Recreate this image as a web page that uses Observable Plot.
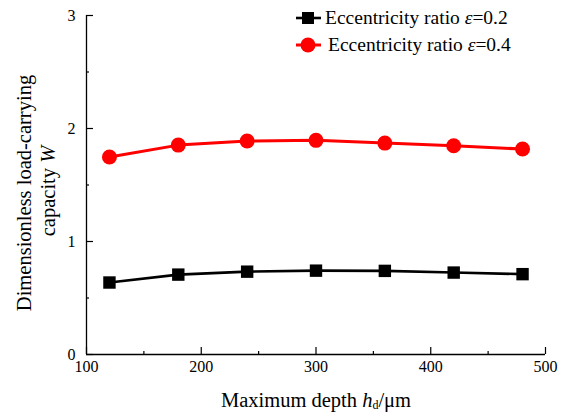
<!DOCTYPE html>
<html><head><meta charset="utf-8">
<script src="https://cdn.jsdelivr.net/npm/d3@7"></script>
<script src="https://cdn.jsdelivr.net/npm/@observablehq/plot@0.6"></script>
<style>
body{margin:0;background:#fff;}
#chart{position:relative;width:569px;height:415px;}
#chart svg, #chart svg text{font-family:"Liberation Serif","Times New Roman",serif !important;}
</style></head><body><div id="chart"></div>
<script>
const depth = [120, 180, 240, 300, 360, 420, 480];
const wEps02 = [0.637, 0.707, 0.733, 0.742, 0.740, 0.725, 0.711];
const wEps04 = [1.748, 1.853, 1.889, 1.895, 1.871, 1.847, 1.818];
const seriesNames = ["Eccentricity ratio ε=0.2", "Eccentricity ratio ε=0.4"];
const xTicks = [100, 200, 300, 400, 500];
const xMinor = [150, 250, 350, 450];
const yTicks = [0, 1, 2, 3];
const yMinor = [0.5, 1.5, 2.5];

const FONT = "Liberation Serif";
const d02 = depth.map((x, i) => ({x, y: wEps02[i]}));
const d04 = depth.map((x, i) => ({x, y: wEps04[i]}));

const plot = Plot.plot({
  width: 569, height: 415,
  marginLeft: 86, marginRight: 24, marginTop: 15, marginBottom: 61,
  style: {fontFamily: FONT, fontSize: "16px", color: "#000", background: "#fff"},
  x: {domain: [100, 500]},
  y: {domain: [0, 3]},
  marks: [
    Plot.axisX(xTicks, {tickSize: 0, tickPadding: 6, fontSize: 16, tickFormat: d => String(d), label: null}),
    Plot.axisX(xTicks, {tickSize: 7, dy: -7, tickFormat: () => "", label: null, strokeWidth: 1.2}),
    Plot.axisX(xMinor, {tickSize: 3, dy: -3, tickFormat: () => "", label: null, strokeWidth: 1.2}),
    Plot.axisY(yTicks, {tickSize: 0, tickPadding: 11, fontSize: 16, tickFormat: d => String(d), label: null}),
    Plot.axisY(yTicks, {tickSize: 7, dx: 7, tickFormat: () => "", label: null, strokeWidth: 1.2}),
    Plot.axisY(yMinor, {tickSize: 3, dx: 3, tickFormat: () => "", label: null, strokeWidth: 1.2}),
    Plot.ruleX([100], {stroke: "#000", strokeWidth: 1.3}),
    Plot.ruleY([0], {stroke: "#000", strokeWidth: 1.3}),
    Plot.line(d02, {x: "x", y: "y", stroke: "#000", strokeWidth: 2.6}),
    Plot.dot(d02, {x: "x", y: "y", symbol: "square", r: 7, fill: "#000"}),
    Plot.line(d04, {x: "x", y: "y", stroke: "#ff0000", strokeWidth: 3}),
    Plot.dot(d04, {x: "x", y: "y", symbol: "circle", r: 7.5, fill: "#ff0000"})
  ]
});
document.getElementById("chart").appendChild(plot);

const svg = d3.select(plot);
// y-axis title (two lines, rotated)
const yt = svg.append("g").attr("font-size", 20.5).attr("text-anchor", "middle");
yt.append("text").attr("transform", "translate(31,193) rotate(-90)").text("Dimensionless load-carrying");
const t2 = yt.append("text").attr("transform", "translate(55,191) rotate(-90)");
t2.append("tspan").text("capacity ");
t2.append("tspan").attr("font-style", "italic").text("W");
// x-axis title
const xt = svg.append("text").attr("x", 316).attr("y", 407).attr("font-size", 20.5).attr("text-anchor", "middle");
xt.append("tspan").text("Maximum depth ");
xt.append("tspan").attr("font-style", "italic").text("h");
xt.append("tspan").attr("font-size", 12).attr("dy", 2).text("d");
xt.append("tspan").attr("dy", -2).text("/μm");
// legend
const colors = ["#000", "#ff0000"];
const lg = svg.append("g").attr("font-size", 19.5).attr("text-anchor", "start");
seriesNames.forEach((name, i) => {
  const yy = 18 + i * 27;
  lg.append("line").attr("x1", 296).attr("x2", 321).attr("y1", yy).attr("y2", yy)
    .attr("stroke", colors[i]).attr("stroke-width", i ? 3 : 2.6);
  if (i === 0) lg.append("rect").attr("x", 302).attr("y", yy - 6).attr("width", 12).attr("height", 12).attr("fill", "#000");
  else lg.append("circle").attr("cx", 308).attr("cy", yy).attr("r", 7.5).attr("fill", "#ff0000");
  const tx = lg.append("text").attr("x", i ? 328 : 325).attr("y", yy + 6);
  const parts = name.split("ε");
  tx.append("tspan").text(parts[0]);
  tx.append("tspan").attr("font-style", "italic").text("ε");
  tx.append("tspan").text(parts[1]);
});
</script></body></html>
